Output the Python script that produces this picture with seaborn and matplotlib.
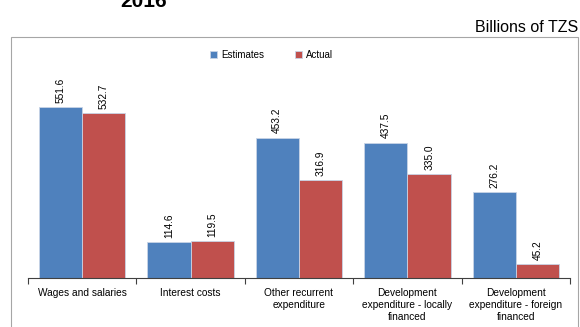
import matplotlib
matplotlib.use('Agg')
import matplotlib.pyplot as plt
import pandas as pd
import seaborn as sns
from matplotlib.patches import Rectangle

# DATA (BILLIONS OF TZS)
categories = ['Wages and salaries', 'Interest costs', 'Other recurrent\nexpenditure',
              'Development\nexpenditure - locally\nfinanced',
              'Development\nexpenditure - foreign\nfinanced']
estimates = [551.6, 114.6, 453.2, 437.5, 276.2]
actual = [532.7, 119.5, 316.9, 335.0, 45.2]

df = pd.DataFrame({
    'category': categories * 2,
    'value': estimates + actual,
    'series': ['Estimates'] * len(categories) + ['Actual'] * len(categories),
})

sns.set_style('white', {'text.color': 'black', 'xtick.color': 'black'})
plt.rcParams['font.family'] = ['Liberation Sans', 'DejaVu Sans']

fig = plt.figure(figsize=(5.8, 3.27), dpi=100)
ax = fig.add_axes([0.048, 0.150, 0.935, 0.71])

sns.barplot(data=df, x='category', y='value', hue='series', ax=ax,
            palette={'Estimates': '#4F81BD', 'Actual': '#C0504D'},
            width=0.8, saturation=1, edgecolor='#C8D4E6', linewidth=0.6)

for cont in ax.containers:
    ax.bar_label(cont, fmt='%.1f', rotation=90, padding=3, fontsize=7.3, color='black')

ax.set_ylim(0, 750)
ax.set_xlim(-0.5, len(categories) - 0.5)
ax.set_yticks([])
ax.set_xlabel('')
ax.set_ylabel('')
ax.tick_params(axis='x', which='major', labelsize=7.3, length=0, pad=7, bottom=False,
               labelcolor='black')
for lbl in ax.get_xticklabels():
    lbl.set_linespacing(1.3)
ax.set_xticks([i - 0.5 for i in range(len(categories) + 1)], minor=True)
ax.tick_params(axis='x', which='minor', bottom=True, length=4, width=0.8,
               color='#404040', direction='out')
for side in ['top', 'right', 'left']:
    ax.spines[side].set_visible(False)
ax.spines['bottom'].set_color('#404040')
ax.spines['bottom'].set_linewidth(0.8)

leg = ax.legend(loc='center', bbox_to_anchor=(0.468, 0.832), bbox_transform=fig.transFigure,
                ncol=2, frameon=False, fontsize=7, handlelength=0.7, handleheight=0.7,
                columnspacing=3.2, handletextpad=0.4)
for t in leg.get_texts():
    t.set_color('black')

# CHART AREA FRAME
fig.patches.append(Rectangle((0.019, -0.02), 0.978, 0.907, transform=fig.transFigure,
                             fill=False, edgecolor='#A6A6A6', linewidth=0.8))

fig.text(0.247, 0.979, '2016', fontsize=15, fontweight='bold', ha='center', va='baseline',
         color='black')
fig.text(0.997, 0.917, 'Billions of TZS', fontsize=11.5, ha='right', va='center',
         color='black')

fig.savefig('out.png', dpi=100)
